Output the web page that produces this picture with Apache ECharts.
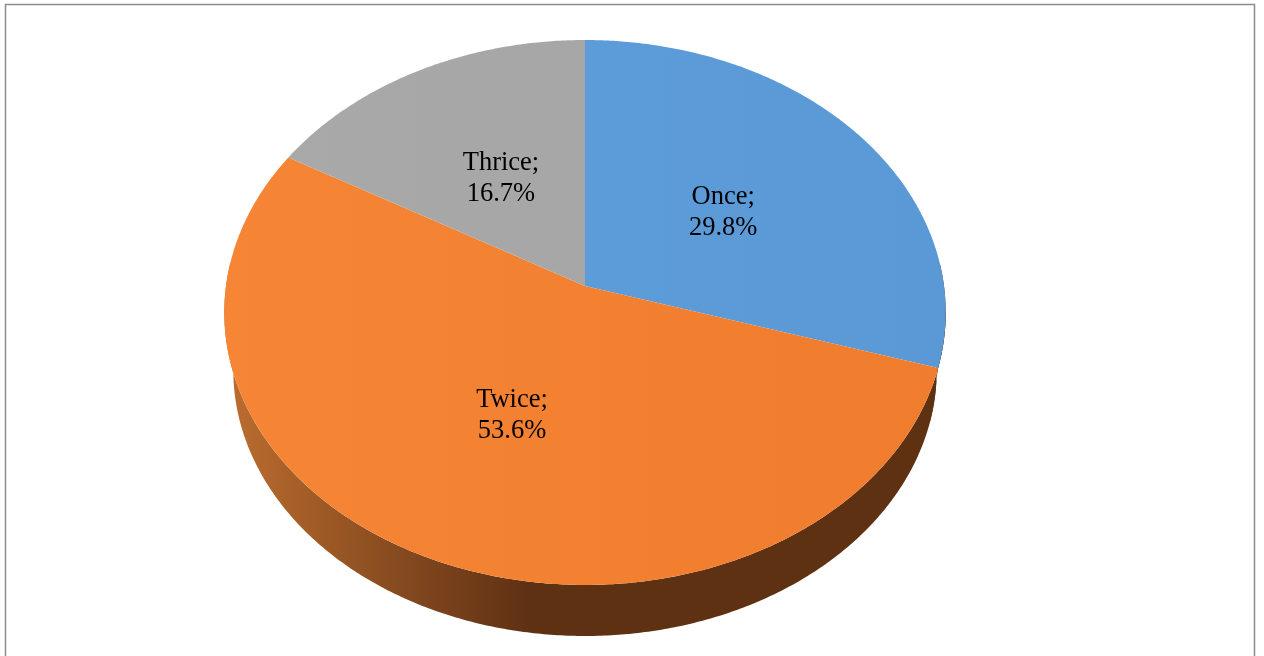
<!DOCTYPE html>
<html>
<head>
<meta charset="utf-8">
<style>html,body{margin:0;padding:0;background:#fff;overflow:hidden}#c{width:1264px;height:656px}</style>
<script src="https://cdn.jsdelivr.net/npm/echarts@6/dist/echarts.min.js"></script>
</head>
<body>
<div id="c"></div>
<script>
const categories = ['Once', 'Twice', 'Thrice'];
const percentages = [29.8, 53.6, 16.7];
const faceStops = [
  ['#5f9fdd', '#5a99d5'],
  ['#f68536', '#f07c2d'],
  ['#a9a9a9', '#a4a4a4']
];

const total = percentages.reduce((a, b) => a + b, 0);
let running = 0;
const rows = percentages.map((v) => {
  const row = [v, running / total * 360, (running + v) / total * 360];
  running += v;
  return row;
});

// Perspective view of the pie's circular top
const view = { cx: 585, cy: 286, a: 359, b: 269.9, k: -0.0972 };
const depth = { shift: 58.5, scale: 0.975 };

function project(deg, r, shift, scale) {
  const t = deg * Math.PI / 180;
  const u = Math.sin(t) * r, v = -Math.cos(t) * r;
  const d = 1 + view.k * v;
  return [view.cx + scale * view.a * u / d, view.cy + shift + scale * view.b * v / d];
}
function arc(from, to, shift, scale) {
  const pts = [];
  const n = Math.max(2, Math.ceil(Math.abs(to - from) * 2));
  for (let i = 0; i <= n; i++) pts.push(project(from + (to - from) * i / n, 1, shift, scale));
  return pts;
}

function renderFace(params, api) {
  const i = params.dataIndex;
  const start = api.value(1), end = api.value(2);
  const mid = (start + end) / 2;
  const pts = [[view.cx, view.cy]].concat(arc(start, end, 0, 1));
  const at = project(mid, 0.49, 3, 1);
  return {
    type: 'group',
    children: [
      {
        type: 'polygon',
        shape: { points: pts },
        style: {
          fill: new echarts.graphic.LinearGradient(view.cx - view.a, 0, view.cx + view.a, 0, [
            { offset: 0, color: faceStops[i][0] },
            { offset: 1, color: faceStops[i][1] }
          ], true)
        }
      },
      {
        type: 'text',
        z2: 10,
        style: {
          text: categories[i] + ';\n' + api.value(0).toFixed(1) + '%',
          x: at[0] + 0.5, y: at[1],
          align: 'center', verticalAlign: 'middle',
          font: '26.5px "Liberation Serif", "Times New Roman", serif',
          lineHeight: 31,
          fill: '#000'
        }
      }
    ]
  };
}

function renderWall(params, api) {
  // Each wall starts a little early so neighbouring walls overlap without a seam
  const start = Math.max(api.value(1) - 12, 85), end = Math.min(api.value(2), 275);
  if (end <= start) return { type: 'group', children: [] };
  const top = arc(start, end, 0, 1);
  const bottom = arc(end, start, depth.shift, depth.scale);
  const shade = new echarts.graphic.LinearGradient(225, 0, 945, 0, [
    { offset: 0, color: '#bd6e30' },
    { offset: 0.1, color: '#a65f28' },
    { offset: 0.25, color: '#84491f' },
    { offset: 0.42, color: '#5f3113' },
    { offset: 1, color: '#5e3112' }
  ], true);
  return {
    type: 'polygon',
    shape: { points: top.concat(bottom) },
    style: { fill: shade }
  };
}

const chart = echarts.init(document.getElementById('c'), null, { renderer: 'canvas' });
chart.setOption({
  animation: false,
  backgroundColor: '#fff',
  graphic: [{
    type: 'polyline',
    silent: true,
    shape: { points: [[5.5, 656], [5.5, 4.5], [1254.5, 4.5], [1254.5, 656]] },
    style: { stroke: '#8c8c8c', lineWidth: 1.5, fill: 'none' }
  }],
  series: [
    { type: 'custom', name: 'Wall', coordinateSystem: 'none', z: 1, silent: true, renderItem: renderWall, data: rows },
    { type: 'custom', name: 'Share', coordinateSystem: 'none', z: 2, silent: true, renderItem: renderFace, data: rows }
  ]
});
</script>
</body>
</html>
